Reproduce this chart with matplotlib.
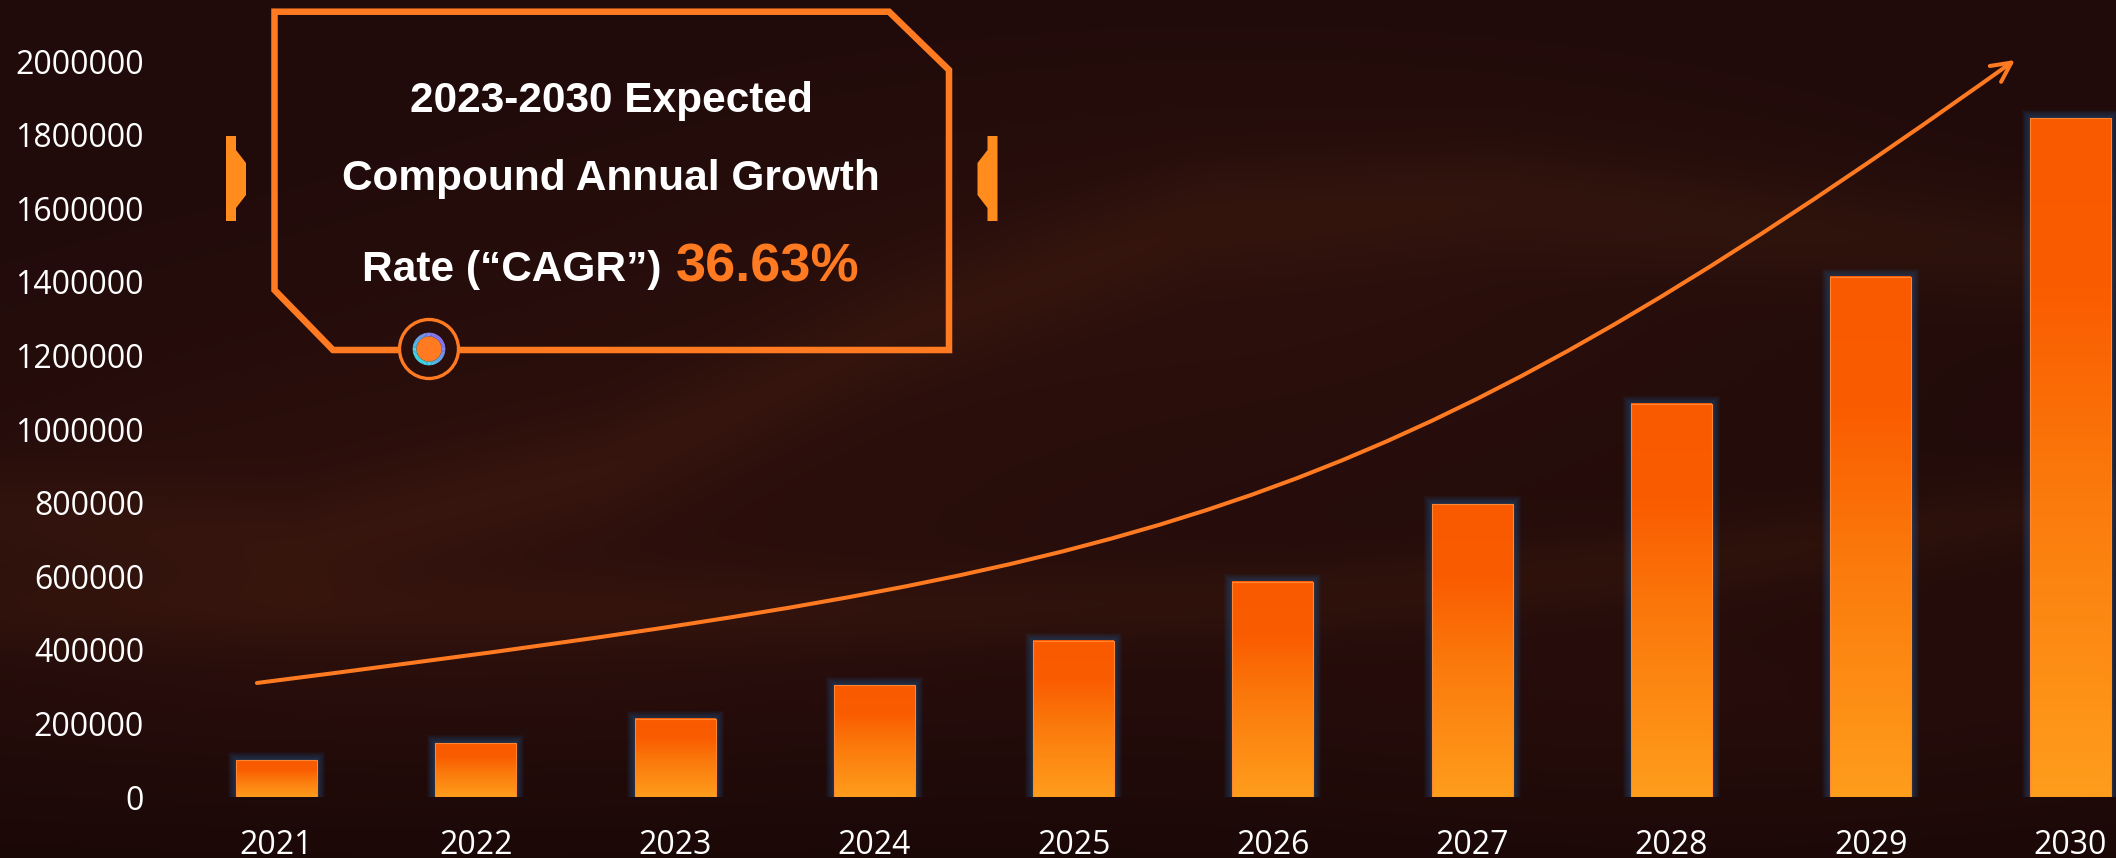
import numpy as np
import matplotlib
matplotlib.use("Agg")
import matplotlib.pyplot as plt
from matplotlib.path import Path
from matplotlib.patches import Polygon, Circle, Wedge, FancyArrowPatch, Rectangle
from matplotlib.colors import LinearSegmentedColormap, to_rgb

# ---------------- data ----------------
years = ["2021", "2022", "2023", "2024", "2025", "2026", "2027", "2028", "2029", "2030"]
market_size = [100000, 146000, 212000, 303000, 424000, 585000, 796000, 1068000, 1414000, 1845000]
y_ticks = [0, 200000, 400000, 600000, 800000, 1000000, 1200000, 1400000, 1600000, 1800000, 2000000]
headline = ["2023-2030 Expected", "Compound Annual Growth", "Rate (\u201cCAGR\u201d)"]
cagr_label = "36.63%"
# cubic Bezier control points of the decorative growth arrow (category / value units)
trend_ctrl_x = [-0.098, 4.417, 5.461, 8.723]
trend_ctrl_y = [309800, 622300, 743200, 2002700]

# ---------------- style ----------------
W, H, DPI = 2116, 858, 100
ORANGE = "#FF7A21"
TAB = "#FF8C1C"
plt.rcParams["font.family"] = ["Open Sans", "DejaVu Sans"]

fig = plt.figure(figsize=(W / DPI, H / DPI), dpi=DPI)
fig.patch.set_facecolor("#220b0a")

# ---------------- background ----------------
bg = fig.add_axes([0, 0, 1, 1], zorder=0)
bg.set_axis_off()
gy, gx = np.mgrid[0:H, 0:W].astype(float)
img = np.ones((H, W, 3)) * np.array([32, 11, 10], float)


def glow(cx, cy, rx, ry, rgb):
    g = np.exp(-(((gx - cx) / rx) ** 2 + ((gy - cy) / ry) ** 2))
    img[...] += g[..., None] * np.array(rgb, float)


def ridge(px, py, width, rgb):
    yc = np.interp(np.arange(W), px, py)
    d = (gy - yc[None, :]) / width
    img[...] += np.exp(-d ** 2)[..., None] * np.array(rgb, float)


glow(450, 540, 650, 230, (12, 4, 2))
glow(1250, 280, 650, 200, (10, 4, 2))
glow(1700, 700, 500, 200, (6, 2, 1))
ridge([0, 300, 600, 900, 1200, 1500, 2116], [520, 545, 470, 330, 220, 200, 260], 55, (10, 6, 2))
ridge([900, 1300, 1700, 2116], [610, 600, 560, 500], 40, (9, 5, 1))
img -= np.clip((gy - 700) / 158, 0, 1)[..., None] * np.array([7, 3, 3], float)
img = np.clip(img, 0, 255) / 255.0
bg.imshow(img, extent=[0, W, H, 0], aspect="auto", interpolation="bilinear")
bg.set_xlim(0, W)
bg.set_ylim(H, 0)

# ---------------- main chart ----------------
ax_left_px, ax_zero_px, ax_top_px = 176.8, 797.0, 61.0
ax = fig.add_axes([ax_left_px / W, (H - ax_zero_px) / H,
                   1 - ax_left_px / W, (ax_zero_px - ax_top_px) / H], zorder=1)
ax.set_facecolor("none")
xlim = (-0.5, 9.23)
ylim = (0, 2000000)
ax.set_xlim(*xlim)
ax.set_ylim(*ylim)

pos = ax.get_position()
px_x = (xlim[1] - xlim[0]) / (pos.width * W)
px_y = (ylim[1] - ylim[0]) / (pos.height * H)

x = np.arange(len(years))
bar_w = 0.406
bar_cmap = LinearSegmentedColormap.from_list(
    "bar", [(0.0, "#FF9D1C"), (0.45, "#FB7A0C"), (0.75, "#FA5C00"), (1.0, "#F95A00")])
grad = np.linspace(0, 1, 256).reshape(-1, 1)

for xi, v in zip(x, market_size):
    # soft blue halo behind each bar
    for k in range(1, 9):
        ax.add_patch(Rectangle((xi - bar_w / 2 - k * px_x, 0), bar_w + 2 * k * px_x, v + k * px_y,
                               facecolor="#1f5a92", alpha=0.075, lw=0, zorder=1))
    ax.imshow(grad, extent=[xi - bar_w / 2, xi + bar_w / 2, 0, v], origin="lower",
              aspect="auto", cmap=bar_cmap, interpolation="bilinear", zorder=2)

ax.bar(x, market_size, width=bar_w, color="none", edgecolor="#FF8633", linewidth=0.8, zorder=3)
ax.set_xlim(*xlim)
ax.set_ylim(*ylim)

ax.set_xticks(x, years)
ax.set_yticks(y_ticks, [str(t) for t in y_ticks])
ax.tick_params(length=0, labelcolor="white", labelsize=23)
ax.tick_params(axis="y", pad=23.6)
ax.tick_params(axis="x", pad=23)
for s in ax.spines.values():
    s.set_visible(False)

# growth arrow
trend_path = Path(list(zip(trend_ctrl_x, trend_ctrl_y)),
                  [Path.MOVETO, Path.CURVE4, Path.CURVE4, Path.CURVE4])
arrow = FancyArrowPatch(path=trend_path, arrowstyle="->,head_length=14,head_width=7",
                        mutation_scale=1, lw=2.9, color=ORANGE, zorder=4, clip_on=False,
                        capstyle="round", joinstyle="round")
ax.add_patch(arrow)

# ---------------- callout overlay (pixel coordinates) ----------------
ov = fig.add_axes([0, 0, 1, 1], zorder=2)
ov.set_axis_off()
ov.patch.set_alpha(0)
ov.set_xlim(0, W)
ov.set_ylim(H, 0)

box = [(274.5, 11.7), (889, 11.7), (949, 70), (949, 350), (333, 350), (274.5, 290)]
ov.add_patch(Polygon(box, closed=True, fill=False, edgecolor=ORANGE, lw=4.7, joinstyle="miter"))

tab_left = [(226, 136), (236, 136), (236, 150), (246, 163), (246, 195), (236, 208), (236, 221), (226, 221)]
mirror = 274.5 + 949
tab_right = [(mirror - px, py) for px, py in tab_left]
ov.add_patch(Polygon(tab_left, closed=True, facecolor=TAB, lw=0))
ov.add_patch(Polygon(tab_right, closed=True, facecolor=TAB, lw=0))

txt_kw = dict(color="white", fontsize=30.5, fontweight="bold", family=["Liberation Sans", "DejaVu Sans"],
              va="baseline")
ov.text(611, 112, headline[0], ha="center", **txt_kw)
ov.text(611, 190, headline[1], ha="center", **txt_kw)
ov.text(661, 281, headline[2], ha="right", **txt_kw)
ov.text(676, 282, cagr_label, ha="left", va="baseline", color=ORANGE, fontsize=39, fontweight="bold",
        family=["Liberation Sans", "DejaVu Sans"])

# ring marker on the callout's lower edge
cx, cy = 429, 349
ov.add_patch(Circle((cx, cy), 29.5, facecolor="#2a0e0b", edgecolor=ORANGE, lw=2.4, zorder=3))
cyan, purple = np.array(to_rgb("#3FE3F2")), np.array(to_rgb("#8E7BFF"))
n_seg = 72
for i in range(n_seg):
    a0 = 360 * i / n_seg
    a1 = 360 * (i + 1) / n_seg + 0.6
    vis = -np.deg2rad((a0 + a1) / 2)
    t = (1 + np.cos(vis - np.deg2rad(45))) / 2
    col = cyan * (1 - t) + purple * t
    ov.add_patch(Wedge((cx, cy), 16.3, a0, a1, width=3.8, facecolor=col, lw=0, zorder=4))
ov.add_patch(Circle((cx, cy), 12.5, facecolor=ORANGE, lw=0, zorder=5))

fig.savefig("out.png", dpi=DPI, facecolor=fig.get_facecolor())
